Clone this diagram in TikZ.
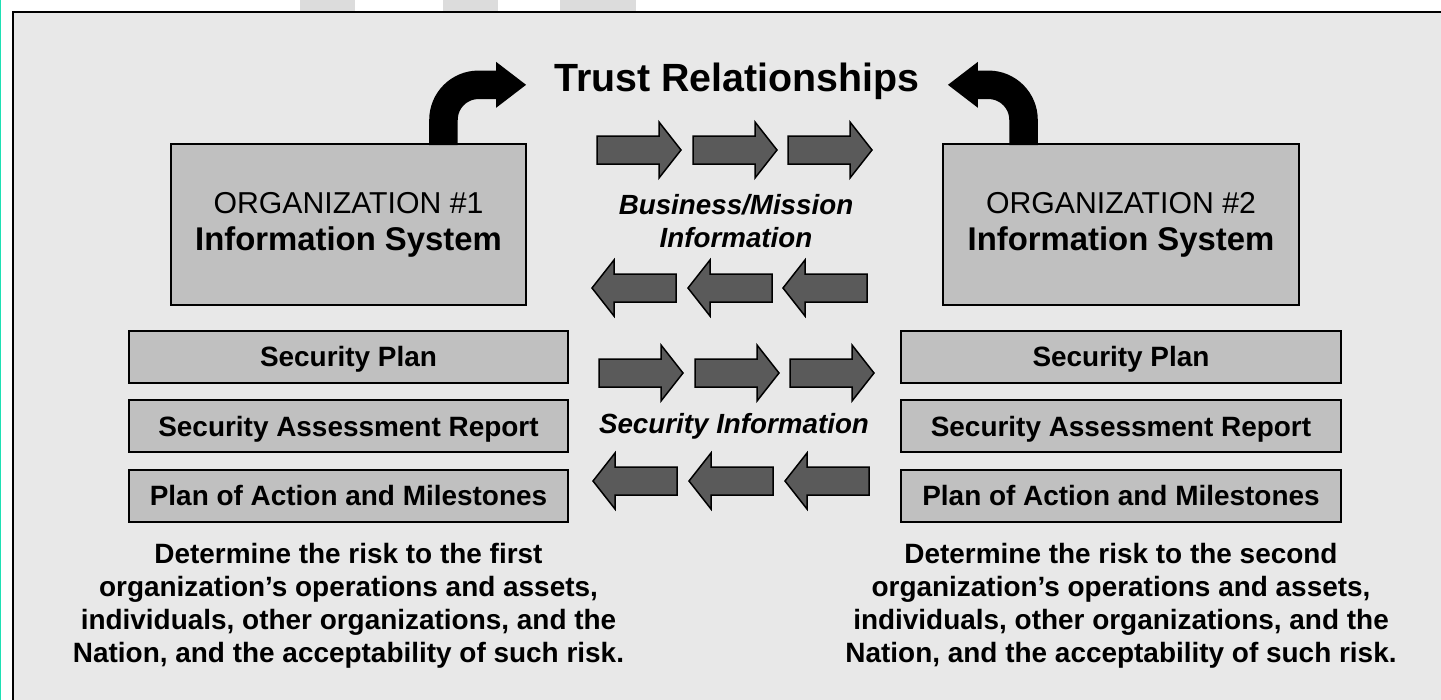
\documentclass[tikz,border=0pt]{standalone}
\usepackage{fontspec}
\setmainfont{Liberation Sans}
\usetikzlibrary{arrows.meta,positioning}

\definecolor{panelgray}{HTML}{E8E8E8}
\definecolor{boxgray}{HTML}{C0C0C0}
\definecolor{flowgray}{HTML}{5A5A5A}
\definecolor{markgray}{HTML}{DCDCDC}
\definecolor{edgeteal}{HTML}{1EE0B4}

\tikzset{
  sysbox/.style={draw=black, line width=0.04cm, fill=boxgray, minimum width=7.12cm,
    minimum height=3.22cm, align=center, inner sep=0pt, font=\fontsize{18.7}{21}\selectfont},
  docbox/.style={draw=black, line width=0.04cm, fill=boxgray, minimum width=8.8cm,
    minimum height=1.04cm, inner sep=0pt, text height=0.4cm, text depth=0pt,
    font=\fontsize{15.9}{18}\selectfont\bfseries},
  flowarrow/.style={draw=black, line width=0.03cm, fill=flowgray},
  flowtext/.style={font=\fontsize{15.8}{18.9}\selectfont\bfseries\itshape, align=center, inner sep=0pt},
  risktext/.style={font=\fontsize{15.9}{18.9}\selectfont\bfseries, align=center, inner sep=0pt},
  trustarrow/.style={line width=0.57cm, -{Triangle[length=0.6cm,width=0.92cm,line width=0pt]}},
}

\begin{document}
\begin{tikzpicture}[x=0.02cm, y=-0.02cm]
\useasboundingbox (0,0) rectangle (1441,700);
\clip (0,0) rectangle (1441,700);
\fill[white] (0,0) rectangle (1441,700);

% page edge and marks above the frame
\fill[edgeteal] (0,0) rectangle (1.5,700);
\fill[markgray] (300,0) rectangle (355,12);
\fill[markgray] (443,0) rectangle (498,12);
\fill[markgray] (560,0) rectangle (636,12);

% frame
\draw[line width=0.05cm, fill=panelgray] (13,12) rectangle (1470,730);

% title
\node[anchor=base, inner xsep=0.56cm, font=\fontsize{22.4}{26}\selectfont\bfseries]
  (trust) at (737,91) {Trust Relationships};

% the two systems
\node[sysbox] (org1) at (348.5,224.5)
  {{\fontsize{17.2}{21}\selectfont ORGANIZATION \#1}\\{\bfseries Information System}};
\node[sysbox] (org2) at (1121,224.5)
  {{\fontsize{17.2}{21}\selectfont ORGANIZATION \#2}\\{\bfseries Information System}};

% documents under each system
\node[docbox, below=0.48cm of org1] (plan1) {Security Plan};
\node[docbox, below=0.31cm of plan1] (sar1) {Security Assessment Report};
\node[docbox, below=0.31cm of sar1] (poam1) {Plan of Action and Milestones};
\node[docbox, below=0.48cm of org2] (plan2) {Security Plan};
\node[docbox, below=0.31cm of plan2] (sar2) {Security Assessment Report};
\node[docbox, below=0.31cm of sar2] (poam2) {Plan of Action and Milestones};

\node[risktext, below=0.39cm of poam1] (risk1) {Determine the risk to the first\\
  organization’s operations and assets,\\individuals, other organizations, and the\\
  Nation, and the acceptability of such risk.};
\node[risktext, below=0.39cm of poam2] (risk2) {Determine the risk to the second\\
  organization’s operations and assets,\\individuals, other organizations, and the\\
  Nation, and the acceptability of such risk.};

% arrows up to the title
\coordinate (tipL) at ([yshift=-0.08cm]trust.west);
\coordinate (tipR) at ([yshift=-0.08cm]trust.east);
\draw[trustarrow] ([xshift=1.9cm,yshift=-0.04cm]org1.north) [rounded corners=0.7cm] |- (tipL);
\draw[trustarrow] ([xshift=-1.95cm,yshift=-0.04cm]org2.north) [rounded corners=0.7cm] |- (tipR);
\node[sysbox, fill=none] at (org1) {};
\node[sysbox, fill=none] at (org2) {};

% information flowing between the systems
\foreach \x/\y in {597/150, 693/150, 788/150, 599/373, 695/373, 790/373}
  \draw[flowarrow] (\x,\y-14) -- ++(62,0) -- ++(0,-14) -- ++(22,28) -- ++(-22,28)
    -- ++(0,-14) -- ++(-62,0) -- cycle;
\foreach \x/\y in {592/288, 688/288, 783/288, 593/481, 689/481, 785/481}
  \draw[flowarrow] (\x,\y) -- ++(22,-28) -- ++(0,14) -- ++(62,0) -- ++(0,28)
    -- ++(-62,0) -- ++(0,14) -- cycle;

\node[flowtext, anchor=north] (bizinfo) at (736,194) {Business/Mission\\Information};
\node[flowtext, anchor=base] (secinfo) at (734,433) {Security Information};

\end{tikzpicture}
\end{document}
